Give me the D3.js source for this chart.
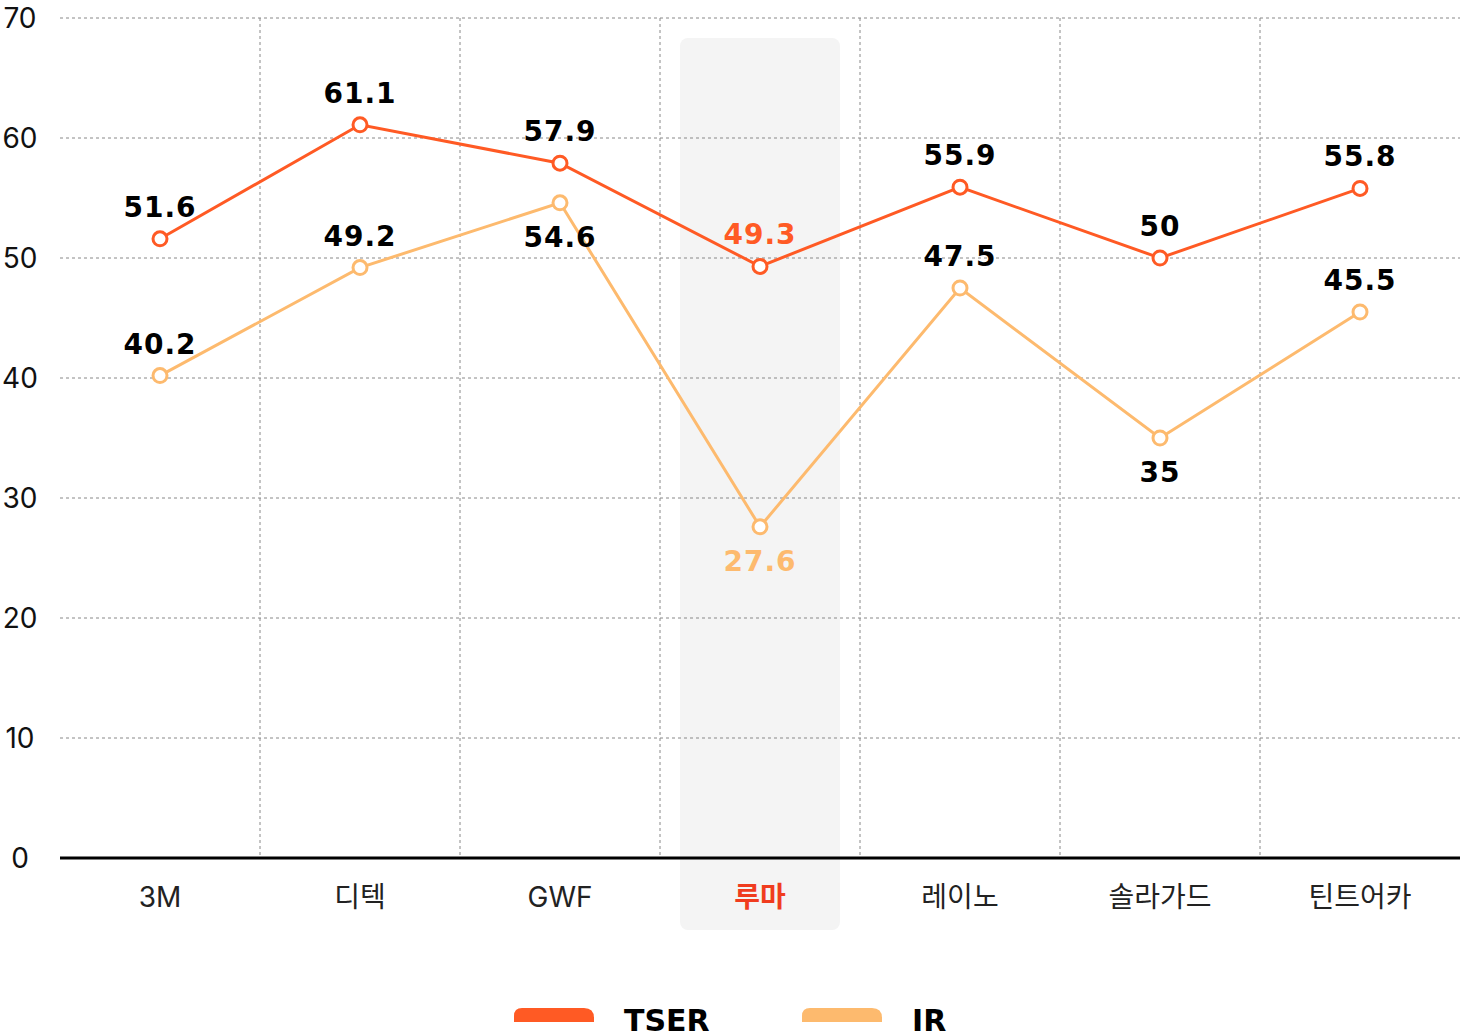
<!DOCTYPE html>
<html><head><meta charset="utf-8">
<script src="https://cdn.jsdelivr.net/npm/d3@7"></script>
<style>body{margin:0;background:#fff}svg{display:block}</style>
</head><body>
<svg id="chart" width="1460" height="1036"></svg>
<script>
var categories = ['3M', '디텍', 'GWF', '루마', '레이노', '솔라가드', '틴트어카']
var tser = [51.6, 61.1, 57.9, 49.3, 55.9, 50, 55.8]
var ir = [40.2, 49.2, 54.6, 27.6, 47.5, 35, 45.5]
var irBelow = [false, false, true, true, false, true, false]
var yTicks = [0, 10, 20, 30, 40, 50, 60, 70]
var highlight = '루마'

var svg = d3.select('#chart')
var x = d3.scaleBand().domain(categories).range([60, 1460])
var y = d3.scaleLinear().domain([0, 70]).range([858, 18])
var cx = function(d){ return x(d) + x.bandwidth() / 2 }

// highlight band
svg.append('rect')
  .attr('x', x(highlight) + 20).attr('y', 38)
  .attr('width', x.bandwidth() - 40).attr('height', 892)
  .attr('rx', 8).attr('fill', '#f4f4f4')

// grid
svg.append('g').selectAll('line').data(yTicks.slice(1)).join('line')
  .attr('x1', 60).attr('x2', 1460).attr('y1', y).attr('y2', y)
  .attr('stroke', '#888').attr('stroke-dasharray', '3,3')
svg.append('g').selectAll('line').data(categories.slice(1)).join('line')
  .attr('x1', x).attr('x2', x).attr('y1', 18).attr('y2', 858)
  .attr('stroke', '#888').attr('stroke-dasharray', '3,3')

svg.append('g').selectAll('text').data(yTicks).join('text')
  .attr('x', 20).attr('y', function(d){ return y(d) + 10 })
  .attr('text-anchor', 'middle').attr('font-family', 'Inter, sans-serif')
  .attr('font-size', 28).attr('fill', '#111').text(function(d){ return d })

svg.append('line').attr('x1', 60).attr('x2', 1460).attr('y1', 858).attr('y2', 858)
  .attr('stroke', '#000').attr('stroke-width', 3)

svg.append('g').selectAll('text').data(categories).join('text')
  .attr('x', cx).attr('y', 907).attr('text-anchor', 'middle')
  .attr('font-family', 'Inter, "Noto Sans CJK KR", sans-serif').attr('font-size', 28)
  .attr('font-weight', function(d){ return d == highlight ? 700 : 400 })
  .attr('fill', function(d){ return d == highlight ? '#f03c1e' : '#222' })
  .text(function(d){ return d })

var drawSeries = function(vals, color, below){
  var line = d3.line().x(function(d, i){ return cx(categories[i]) }).y(function(d){ return y(d) })
  svg.append('path').datum(vals).attr('d', line).attr('fill', 'none')
    .attr('stroke', color).attr('stroke-width', 3)
  svg.append('g').selectAll('circle').data(vals).join('circle')
    .attr('cx', function(d, i){ return cx(categories[i]) }).attr('cy', y)
    .attr('r', 7).attr('fill', '#fff').attr('stroke', color).attr('stroke-width', 3)
  svg.append('g').selectAll('text').data(vals).join('text')
    .attr('x', function(d, i){ return cx(categories[i]) })
    .attr('y', function(d, i){ return below && below[i] ? y(d) + 44 : y(d) - 22 })
    .attr('text-anchor', 'middle').attr('font-family', '"DejaVu Sans", sans-serif')
    .attr('font-weight', 700).attr('font-size', 28).attr('letter-spacing', 1)
    .attr('fill', function(d, i){ return categories[i] == highlight ? color : '#000' })
    .text(function(d){ return d })
}
drawSeries(ir, '#fdba6e', irBelow)
drawSeries(tser, '#ff5a24', null)

// legend
var legend = [{name: 'TSER', color: '#ff5a24', x: 514}, {name: 'IR', color: '#fdba6e', x: 802}]
var lg = svg.append('g').selectAll('g').data(legend).join('g')
lg.append('path').attr('d', function(d){
  return 'M' + d.x + ',1022 L' + d.x + ',1016 Q' + d.x + ',1008 ' + (d.x + 8) + ',1008 L' + (d.x + 70) + ',1008 Q' + (d.x + 80) + ',1008 ' + (d.x + 80) + ',1018 L' + (d.x + 80) + ',1022 Z'
}).attr('fill', function(d){ return d.color })
lg.append('text').attr('x', function(d){ return d.x + 110 }).attr('y', 1031)
  .attr('font-family', '"DejaVu Sans", sans-serif').attr('font-weight', 700)
  .attr('font-size', 30).attr('fill', '#000').text(function(d){ return d.name })
</script>
</body></html>
